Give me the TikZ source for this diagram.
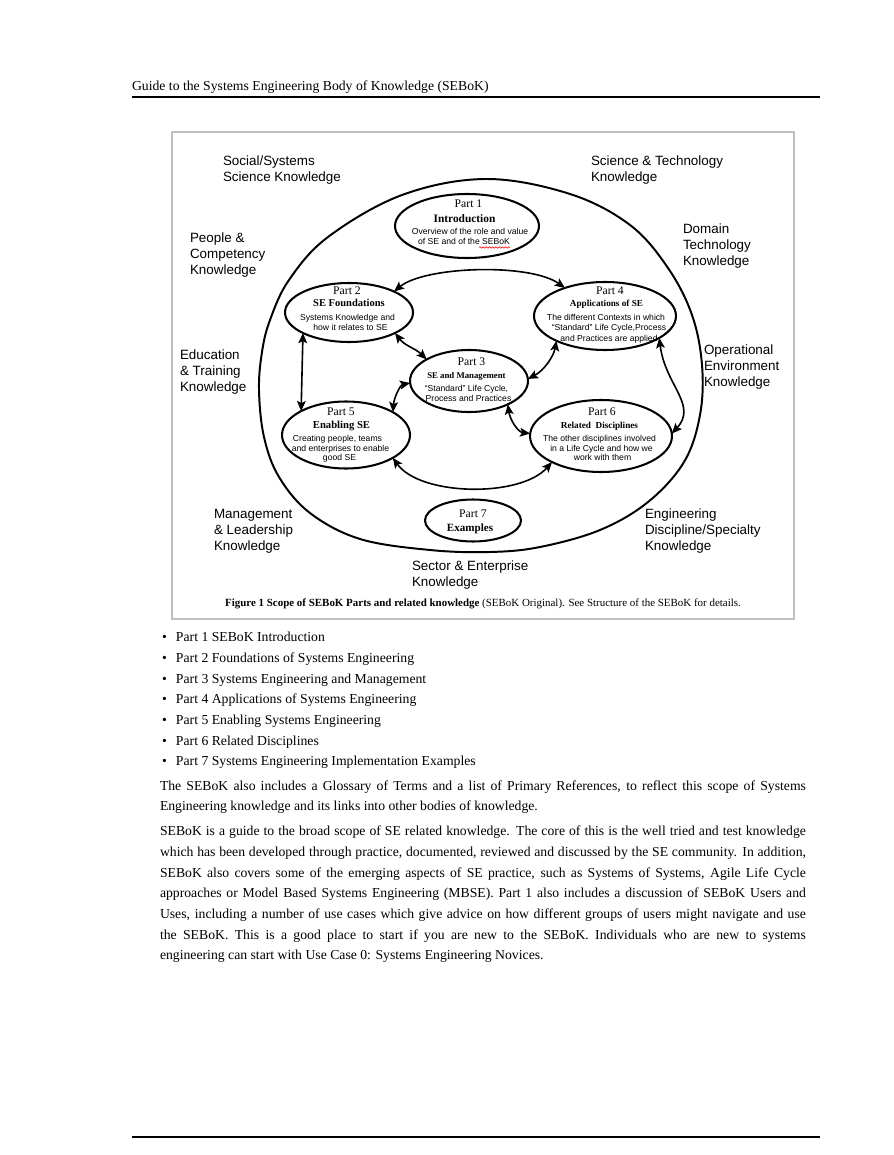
\documentclass[tikz,border=0pt]{standalone}
\usepackage{fontspec}
\setmainfont{Liberation Serif}
\newfontfamily\arialf{Liberation Sans}
\usetikzlibrary{shapes.geometric,arrows.meta,decorations.pathmorphing,calc}
\newdimen\pxu
\pxu=0.68533pt
\begin{document}
\begin{tikzpicture}[x=0.68533pt, y=-0.68533pt,
  ell/.style={draw, ellipse, line width=1.4pt, inner sep=0pt, outer sep=0pt},
  arr/.style={{Stealth[length=7pt,width=6pt,inset=1.5pt]}-{Stealth[length=7pt,width=6pt,inset=1.5pt]}, line width=1.1pt},
  tx/.style={inner sep=0pt, outer sep=0pt, anchor=base},
  plab/.style={tx, font=\fontsize{8}{9}\selectfont},
  ptit/.style={tx, font=\fontsize{#1}{9}\selectfont\bfseries},
  pdesc/.style={tx, font=\arialf\fontsize{5.9}{7}\selectfont},
  know/.style={inner sep=0pt, outer sep=0pt, anchor=base west, align=left, font=\arialf\fontsize{9.2}{11}\selectfont},
  bodyl/.style={inner sep=0pt, outer sep=0pt, anchor=base west, font=\fontsize{9.4}{14}\selectfont},
]
\useasboundingbox (0,0) rectangle (893,1155);
\fill[white] (0,0) rectangle (893,1155);

% header and footer
\node[bodyl] (hdr) at (132,91) {Guide to the Systems Engineering Body of Knowledge (SEBoK)};
\draw[line width=0.8pt] (132,97) -- (820,97);
\draw[line width=0.8pt] (132,1137) -- (820,1137);

% figure frame
\draw[black!25, line width=0.8pt] (172,132) rectangle (794,619);

% outer hand-drawn ellipse
\draw[line width=1.35pt] plot[smooth cycle, tension=0.6] coordinates {
 (486,179) (570,194) (630,225) (668,268) (692,315) (702,365) (700,415)
 (684,462) (648,502) (600,530) (540,547) (490,552) (430,550) (360,539)
 (310,513) (279,477) (264,437) (259,390) (262,352) (270,320) (289,280)
 (328,237) (402,195)};

% knowledge labels (anchored at the baseline of the last line)
\node[know] (k1) at (223,181.5) {Social/Systems\\Science Knowledge};
\node[know] (k2) at (591,181.5) {Science \& Technology\\Knowledge};
\node[know] (k3) at (190,274.5) {People \&\\Competency\\Knowledge};
\node[know] (k4) at (683,265.5) {Domain\\Technology\\Knowledge};
\node[know] (k5) at (180,391.5) {Education\\\& Training\\Knowledge};
\node[know] (k6) at (704,386.5) {Operational\\Environment\\Knowledge};
\node[know] (k7) at (214,550.5) {Management\\\& Leadership\\Knowledge};
\node[know] (k8) at (645,550.5) {Engineering\\Discipline/Specialty\\Knowledge};
\node[know] (k9) at (412,586.5) {Sector \& Enterprise\\Knowledge};

% part ellipses
\node[ell, minimum width=144\pxu, minimum height=64\pxu] (p1) at (467,226) {};
\node[ell, minimum width=128\pxu, minimum height=59\pxu] (p2) at (349,312.5) {};
\node[ell, minimum width=118\pxu, minimum height=62\pxu] (p3) at (469,381) {};
\node[ell, minimum width=142\pxu, minimum height=68\pxu] (p4) at (605,316) {};
\node[ell, minimum width=128\pxu, minimum height=67\pxu] (p5) at (346,435) {};
\node[ell, minimum width=142\pxu, minimum height=72\pxu] (p6) at (601,436) {};
\node[ell, minimum width=96\pxu, minimum height=42\pxu] (p7) at (473,520.5) {};

% part 1 text
\node[plab] (p1a) at (468.5,207.5) {Part 1};
\node[ptit=7.8] (p1b) at (464.5,222.5) {Introduction};
\node[pdesc] (p1c) at (470,235) {Overview of the role and value};
\node[pdesc] (p1d) at (464,245) {of SE and of the SEBoK};
\draw[red, line width=0.4pt, decorate, decoration={snake,amplitude=0.5pt,segment length=2.2pt}]
  ($(p1d.base east)+(-31,2.5)$) -- ($(p1d.base east)+(0,2.5)$);

% part 2 text
\node[plab] (p2a) at (347,294.3) {Part 2};
\node[ptit=7.2] (p2b) at (349,306.7) {SE Foundations};
\node[pdesc] (p2c) at (347.5,320) {Systems Knowledge and};
\node[pdesc] (p2d) at (350.5,330.3) {how it relates to SE};

% part 3 text
\node[plab] (p3a) at (471.5,365) {Part 3};
\node[ptit=6.0] (p3b) at (466.5,378) {SE and Management};
\node[pdesc] (p3c) at (466.5,391.5) {“Standard” Life Cycle,};
\node[pdesc] (p3d) at (468.5,401.5) {Process and Practices};

% part 4 text
\node[plab] (p4a) at (610,294.7) {Part 4};
\node[ptit=6.3] (p4b) at (606.5,306.7) {Applications of SE};
\node[pdesc] (p4c) at (606,320) {The different Contexts in which};
\node[pdesc] (p4d) at (609,330.7) {“Standard” Life Cycle,Process};
\node[pdesc] (p4e) at (609,341) {and Practices are applied};

% part 5 text
\node[plab] (p5a) at (341,415) {Part 5};
\node[ptit=7.3] (p5b) at (341.5,428) {Enabling SE};
\node[pdesc] (p5c) at (337.5,441) {Creating people, teams};
\node[pdesc] (p5d) at (340.5,451) {and enterprises to enable};
\node[pdesc] (p5e) at (339.5,460.5) {good SE};

% part 6 text
\node[plab] (p6a) at (602,415) {Part 6};
\node[ptit=6.3] (p6b) at (599.5,428) {Related~~Disciplines};
\node[pdesc] (p6c) at (599.5,441) {The other disciplines involved};
\node[pdesc] (p6d) at (601.5,451) {in a Life Cycle and how we};
\node[pdesc] (p6e) at (602.5,460.5) {work with them};

% part 7 text
\node[plab] (p7a) at (473,517.3) {Part 7};
\node[ptit=7.6] (p7b) at (470,531) {Examples};

% connectors
\draw[arr] (p2.25) .. controls (425,266) and (530,263) .. (p4.145);
\draw[arr] (p2.204) -- (p5.152);
\draw[arr] (p2.336) .. controls (405,346) and (415,348) .. (p3.153);
\draw[arr] (p3.182) .. controls (400,385) and (394,398) .. (p5.26);
\draw[arr] (p4.207) .. controls (554,355) and (545,370) .. (p3.2);
\draw[arr] (p3.329) .. controls (510,420) and (518,432) .. (p6.178);
\draw[arr] (p4.338) .. controls (665,385) and (698,405) .. (p6.2);
\draw[arr] (p5.334) .. controls (420,496) and (520,498) .. (p6.208);

% caption
\node[tx, font=\fontsize{7.5}{9}\selectfont] (cap) at (483,606) {\textbf{Figure 1 Scope of SEBoK Parts and related knowledge} (SEBoK Original). See Structure of the SEBoK for details.};

% bullet list
\node[bodyl] (l1) at (162,641) {\makebox[14\pxu][l]{\textbullet}Part 1 SEBoK Introduction};
\node[bodyl] (l2) at (162,662) {\makebox[14\pxu][l]{\textbullet}Part 2 Foundations of Systems Engineering};
\node[bodyl] (l3) at (162,683) {\makebox[14\pxu][l]{\textbullet}Part 3 Systems Engineering and Management};
\node[bodyl] (l4) at (162,703) {\makebox[14\pxu][l]{\textbullet}Part 4 Applications of Systems Engineering};
\node[bodyl] (l5) at (162,724) {\makebox[14\pxu][l]{\textbullet}Part 5 Enabling Systems Engineering};
\node[bodyl] (l6) at (162,745) {\makebox[14\pxu][l]{\textbullet}Part 6 Related Disciplines};
\node[bodyl] (l7) at (162,765) {\makebox[14\pxu][l]{\textbullet}Part 7 Systems Engineering Implementation Examples};

% paragraph 1
\node[bodyl] (a1) at (160,790) {\makebox[442.7pt][s]{The SEBoK also includes a Glossary of Terms and a list of Primary References, to reflect this scope of Systems}};
\node[bodyl] (a2) at (160,810) {Engineering knowledge and its links into other bodies of knowledge.};

% paragraph 2
\node[bodyl] (c1) at (160,835) {\makebox[442.7pt][s]{SEBoK is a guide to the broad scope of SE related knowledge. The core of this is the well tried and test knowledge}};
\node[bodyl] (c2) at (160,856) {\makebox[442.7pt][s]{which has been developed through practice, documented, reviewed and discussed by the SE community. In addition,}};
\node[bodyl] (c3) at (160,877) {\makebox[442.7pt][s]{SEBoK also covers some of the emerging aspects of SE practice, such as Systems of Systems, Agile Life Cycle}};
\node[bodyl] (c4) at (160,897) {\makebox[442.7pt][s]{approaches or Model Based Systems Engineering (MBSE). Part 1 also includes a discussion of SEBoK Users and}};
\node[bodyl] (c5) at (160,918) {\makebox[442.7pt][s]{Uses, including a number of use cases which give advice on how different groups of users might navigate and use}};
\node[bodyl] (c6) at (160,939) {\makebox[442.7pt][s]{the SEBoK. This is a good place to start if you are new to the SEBoK. Individuals who are new to systems}};
\node[bodyl] (c7) at (160,959) {engineering can start with Use Case 0: Systems Engineering Novices.};
\end{tikzpicture}
\end{document}
